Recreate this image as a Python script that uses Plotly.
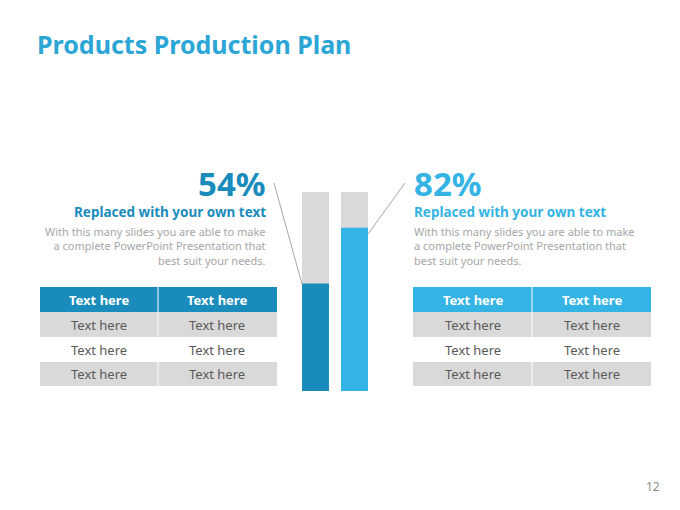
import plotly.graph_objects as go

W, H = 680, 510
bar_labels = ["Left", "Right"]
bar_values = [0.54, 0.82]
pct_labels = ["54%", "82%"]
header = ["Text here", "Text here"]
rows = [["Text here", "Text here"], ["Text here", "Text here"], ["Text here", "Text here"]]
subtitle = "Replaced with your own text"
body = "With this many slides you are able to make<br>a complete PowerPoint Presentation that<br>best suit your needs."

DARK = "#1a8cbc"
LIGHT = "#33b4e4"
GRAY = "#d9d9d9"

def px(x): return x / W
def py(y): return 1 - y / H

fig = go.Figure()
xs = [0, 1]
fig.add_trace(go.Bar(x=xs, y=[1, 1], width=0.692, marker=dict(color=GRAY, line_width=0), hoverinfo="skip"))
fig.add_trace(go.Bar(x=xs, y=bar_values, width=0.692, marker=dict(color=[DARK, LIGHT], line_width=0),
                     text=bar_labels, textposition="none"))

shapes = []
ann = []
shapes.append(dict(type="line", xref="paper", yref="paper", x0=px(274), y0=py(183), x1=px(302), y1=py(284),
                   line=dict(color="#a6a6a6", width=1)))
shapes.append(dict(type="line", xref="paper", yref="paper", x0=px(405), y0=py(183), x1=px(368), y1=py(234),
                   line=dict(color="#a6a6a6", width=1)))

def table(x0, xm, x1, hcol):
    ys = [287, 312, 337, 362, 386]
    shapes.append(dict(type="rect", xref="paper", yref="paper", x0=px(x0), x1=px(x1), y0=py(ys[0]), y1=py(ys[1]),
                       fillcolor=hcol, line_width=0, layer="below"))
    for i in (0, 2):
        shapes.append(dict(type="rect", xref="paper", yref="paper", x0=px(x0), x1=px(x1), y0=py(ys[i+1]), y1=py(ys[i+2]),
                           fillcolor=GRAY, line_width=0, layer="below"))
    shapes.append(dict(type="line", xref="paper", yref="paper", x0=px(xm), x1=px(xm), y0=py(ys[0]), y1=py(ys[-1]),
                       line=dict(color="white", width=1)))
    for r in range(4):
        for c in range(2):
            cx = (x0 + xm) / 2 if c == 0 else (xm + x1) / 2
            cy = (ys[r] + ys[r+1]) / 2
            txt = header[c] if r == 0 else rows[r-1][c]
            ann.append(dict(xref="paper", yref="paper", x=px(cx), y=py(cy), text=("<b>%s</b>" % txt) if r == 0 else txt,
                            showarrow=False, xanchor="center", yanchor="middle",
                            font=dict(size=13, color="white" if r == 0 else "#595959", family="Noto Sans")))

table(40, 158, 277, DARK)
table(413, 532, 651, LIGHT)

def texts(x, anchor, col, pct):
    ann.append(dict(xref="paper", yref="paper", x=px(x), y=py(183), text="<b>%s</b>" % pct, showarrow=False,
                    xanchor=anchor, yanchor="middle", font=dict(size=33, color=col, family="Noto Sans")))
    ann.append(dict(xref="paper", yref="paper", x=px(x), y=py(212), text="<b>%s</b>" % subtitle, showarrow=False,
                    xanchor=anchor, yanchor="middle", font=dict(size=13.5, color=col, family="Noto Sans")))
    ann.append(dict(xref="paper", yref="paper", x=px(x), y=py(246), text=body, showarrow=False, align=anchor,
                    xanchor=anchor, yanchor="middle", font=dict(size=11, color="#a6a6a6", family="Noto Sans")))

texts(268, "right", DARK, pct_labels[0])
texts(412, "left", LIGHT, pct_labels[1])

ann.append(dict(xref="paper", yref="paper", x=px(35), y=py(44), text="<b>Products Production Plan</b>", showarrow=False,
                xanchor="left", yanchor="middle", font=dict(size=25, color="#2ba6d6", family="Noto Sans")))
ann.append(dict(xref="paper", yref="paper", x=px(662), y=py(486), text="12", showarrow=False,
                xanchor="right", yanchor="middle", font=dict(size=12, color="#8c8c8c", family="Noto Sans")))

fig.update_layout(
    width=W, height=H, margin=dict(l=0, r=0, t=0, b=0), paper_bgcolor="white", plot_bgcolor="white",
    barmode="overlay", showlegend=False, shapes=shapes, annotations=ann,
    xaxis=dict(domain=[px(302), px(368)], range=[-13.5/39, 1 + 13.5/39], visible=False, fixedrange=True),
    yaxis=dict(domain=[py(391), py(192)], range=[0, 1], visible=False, fixedrange=True),
)
fig.write_html("out.html", config={"displayModeBar": False})
with open("out.html", encoding="utf-8") as f:
    html = f.read()
html = html.replace("<body>", '<body style="margin:0;overflow:hidden">', 1)
with open("out.html", "w", encoding="utf-8") as f:
    f.write(html)
